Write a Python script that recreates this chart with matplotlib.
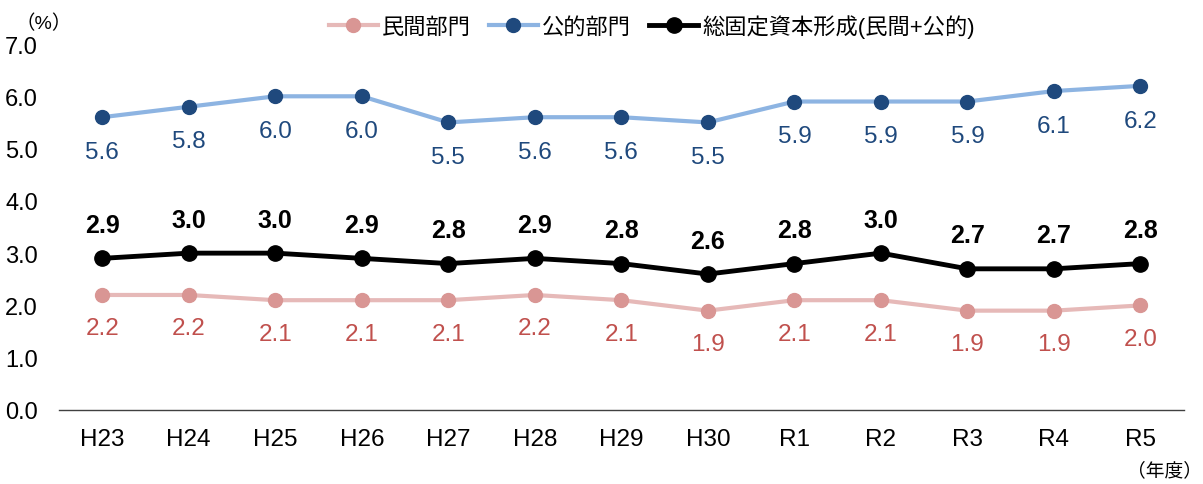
import matplotlib
matplotlib.use("Agg")
import matplotlib.pyplot as plt

plt.rcParams['font.family'] = ['Liberation Sans', 'Noto Sans CJK JP', 'DejaVu Sans']

years = ["H23", "H24", "H25", "H26", "H27", "H28", "H29", "H30", "R1", "R2", "R3", "R4", "R5"]
private = [2.2, 2.2, 2.1, 2.1, 2.1, 2.2, 2.1, 1.9, 2.1, 2.1, 1.9, 1.9, 2.0]
public = [5.6, 5.8, 6.0, 6.0, 5.5, 5.6, 5.6, 5.5, 5.9, 5.9, 5.9, 6.1, 6.2]
total = [2.9, 3.0, 3.0, 2.9, 2.8, 2.9, 2.8, 2.6, 2.8, 3.0, 2.7, 2.7, 2.8]
yticks = [0.0, 1.0, 2.0, 3.0, 4.0, 5.0, 6.0, 7.0]

fig = plt.figure(figsize=(12.03, 4.85), dpi=100)
ax = fig.add_axes([0.049, 0.1526, 0.935, 0.7546])
x = list(range(len(years)))

l1, = ax.plot(x, private, color="#E6B9B8", lw=3, marker="o", ms=10,
              mfc="#D99694", mec="#D99694", label="民間部門", zorder=3)
l2, = ax.plot(x, public, color="#8DB4E2", lw=3, marker="o", ms=10,
              mfc="#1F497D", mec="#1F497D", label="公的部門", zorder=3)
l3, = ax.plot(x, total, color="black", lw=3.5, marker="o", ms=11,
              mfc="black", mec="black", label="総固定資本形成(民間+公的)", zorder=4)

for xi, v in zip(x, private):
    ax.annotate(f"{v:.1f}", (xi, v), xytext=(0, -24), textcoords="offset points",
                ha="center", va="center", fontsize=17.5, color="#C0504D")
for xi, v in zip(x, public):
    ax.annotate(f"{v:.1f}", (xi, v), xytext=(0, -25), textcoords="offset points",
                ha="center", va="center", fontsize=17.5, color="#1F497D")
for xi, v in zip(x, total):
    ax.annotate(f"{v:.1f}", (xi, v), xytext=(0, 24), textcoords="offset points",
                ha="center", va="center", fontsize=18, color="black", fontweight="bold")

ax.set_xlim(-0.5, len(years) - 0.5)
ax.set_ylim(0, 7)
ax.set_yticks(yticks)
ax.set_yticklabels([f"{t:.1f}" for t in yticks], fontsize=17)
ax.set_xticks(x)
ax.set_xticklabels(years, fontsize=17.5)
for s in ["top", "right", "left"]:
    ax.spines[s].set_visible(False)
ax.spines["bottom"].set_color("#404040")
ax.spines["bottom"].set_linewidth(1)
ax.tick_params(axis="both", length=0)
ax.tick_params(axis="x", pad=13)
ax.tick_params(axis="y", pad=15)

fig.text(0.036, 0.95, "（%）", fontsize=14, ha="center", va="center")
fig.text(0.968, 0.028, "（年度）", fontsize=13.5, ha="center", va="center")

leg = fig.legend(handles=[l1, l2, l3], loc="center", bbox_to_anchor=(0.542, 0.944),
                 ncol=3, frameon=False, fontsize=16, handlelength=2.2,
                 handletextpad=0.2, columnspacing=0.8)

fig.savefig("out.png", dpi=100)
